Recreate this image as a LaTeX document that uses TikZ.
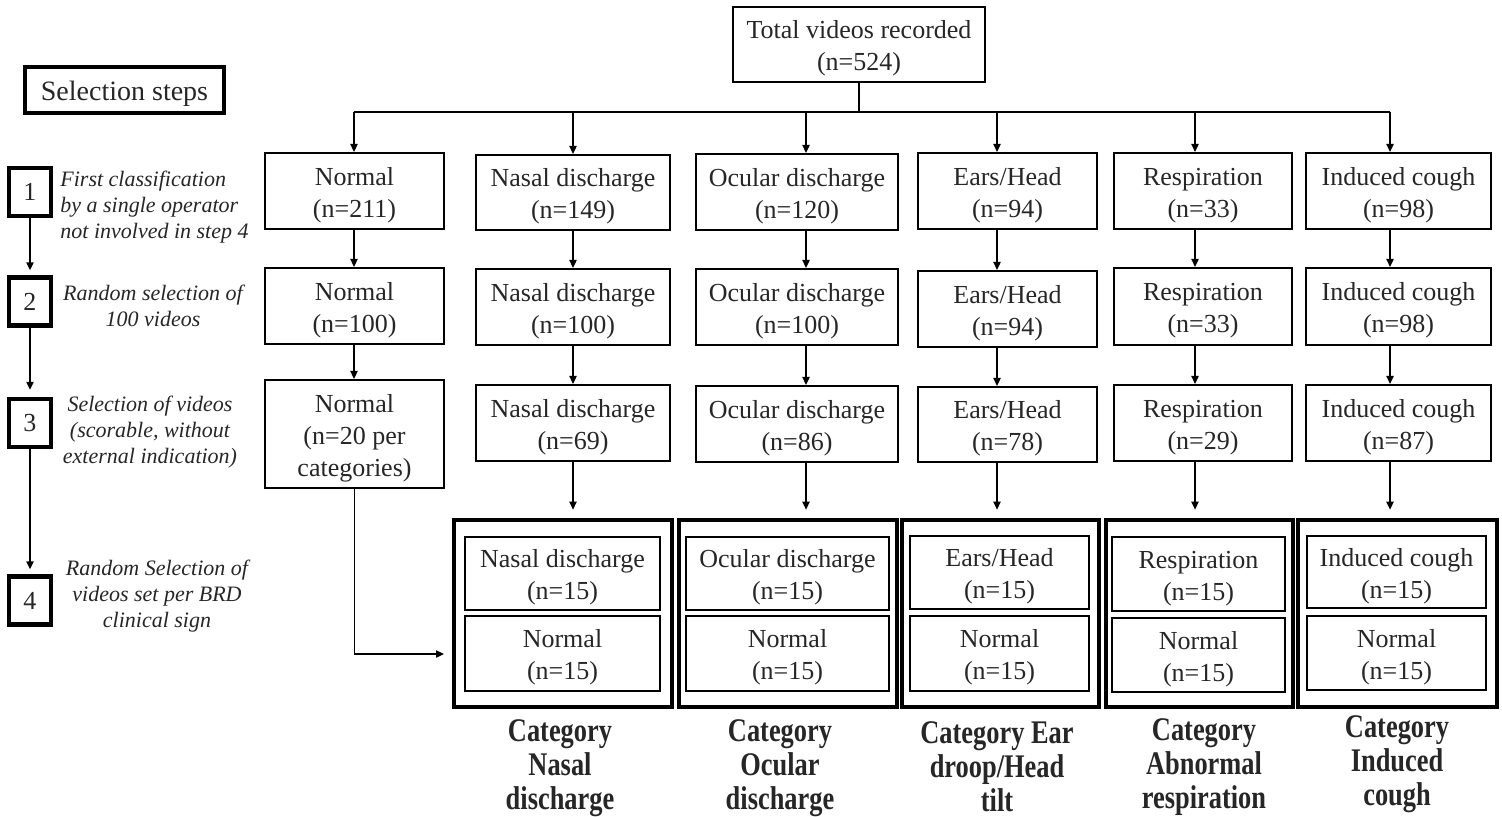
\documentclass[tikz,border=0pt]{standalone}
\usepackage{fontspec}
\setmainfont{Liberation Serif}
\usepackage{graphicx}
\usetikzlibrary{arrows.meta}

% strut that lowers box text slightly below the geometric centre
\newcommand\boxlift{\rule{0pt}{13pt}}

% \boxat[style]{name}{x1}{y1}{x2}{y2}{text}: a box spanning the given corners
\newcommand\boxat[7][]{%
  \node[box,#1,minimum width={(#5-#3)*0.5pt},minimum height={(#6-#4)*0.5pt}]
    (#2) at ({(#3+#5)/2},{(#4+#6)/2}) {\boxlift #7};}

% bold, narrow category caption
\newcommand\catlabel[1]{\scalebox{0.8}[1]{\begin{tabular}{@{}c@{}}#1\end{tabular}}}

\tikzset{
  box/.style={draw, line width=1pt, inner sep=0pt, align=center,
              font=\fontsize{13}{16}\selectfont, text=black!85},
  heavybox/.style={box, line width=2pt, font=\fontsize{14}{16}\selectfont},
  groupbox/.style={line width=2.3pt},
  innerbox/.style={line width=1.2pt},
  stepbox/.style={box, line width=2.2pt, minimum width=21pt, minimum height=24pt},
  link/.style={line width=0.8pt},
  arr/.style={link, -{Triangle[length=4pt,width=3.6pt]}},
  stepnote/.style={font=\fontsize{11}{13}\selectfont\itshape, inner sep=0pt, text=black!85},
  cat/.style={font=\fontsize{16.5}{17}\selectfont\bfseries, inner sep=0pt, text=black!85}
}

\begin{document}
\begin{tikzpicture}[x=0.5pt,y=-0.5pt]
\useasboundingbox (0,0) rectangle (1502,817);

% legend
\node[heavybox, minimum width=99.5pt, minimum height=23pt] (legend) at (124.5,90) {\boxlift Selection steps};

% root
\boxat{top}{733}{7}{985}{82}{Total videos recorded\\(n=524)}

% step 1: first classification
\boxat{n1}{265}{153}{444}{229}{Normal\\(n=211)}
\boxat{a1}{476}{155}{670}{230}{Nasal discharge\\(n=149)}
\boxat{o1}{696}{154}{898}{230}{Ocular discharge\\(n=120)}
\boxat{e1}{918}{153}{1097}{229}{Ears/Head\\(n=94)}
\boxat{r1}{1114}{153}{1292}{229}{Respiration\\(n=33)}
\boxat{c1}{1306}{153}{1491}{229}{Induced cough\\(n=98)}

% step 2: random selection
\boxat{n2}{265}{268}{444}{344}{Normal\\(n=100)}
\boxat{a2}{476}{269}{670}{345}{Nasal discharge\\(n=100)}
\boxat{o2}{696}{269}{898}{345}{Ocular discharge\\(n=100)}
\boxat{e2}{918}{271}{1097}{347}{Ears/Head\\(n=94)}
\boxat{r2}{1114}{268}{1292}{345}{Respiration\\(n=33)}
\boxat{c2}{1306}{268}{1491}{345}{Induced cough\\(n=98)}

% step 3: scorable videos
\boxat{n3}{265}{380}{444}{488}{Normal\\(n=20 per\\categories)}
\boxat{a3}{476}{385}{670}{461}{Nasal discharge\\(n=69)}
\boxat{o3}{696}{386}{898}{462}{Ocular discharge\\(n=86)}
\boxat{e3}{918}{387}{1097}{462}{Ears/Head\\(n=78)}
\boxat{r3}{1114}{385}{1292}{461}{Respiration\\(n=29)}
\boxat{c3}{1306}{385}{1491}{461}{Induced cough\\(n=87)}

% step 4: final sets per clinical sign
\boxat[groupbox]{g1}{454}{520}{672}{707}{}
\boxat[innerbox]{g1t}{465}{537}{660}{610}{Nasal discharge\\(n=15)}
\boxat[innerbox]{g1b}{465}{616}{660}{691}{Normal\\(n=15)}

\boxat[groupbox]{g2}{679}{520}{897}{707}{}
\boxat[innerbox]{g2t}{686}{537}{889}{610}{Ocular discharge\\(n=15)}
\boxat[innerbox]{g2b}{686}{616}{889}{691}{Normal\\(n=15)}

\boxat[groupbox]{g3}{902}{520}{1099}{707}{}
\boxat[innerbox]{g3t}{910}{536}{1089}{609}{Ears/Head\\(n=15)}
\boxat[innerbox]{g3b}{910}{616}{1089}{691}{Normal\\(n=15)}

\boxat[groupbox]{g4}{1106}{520}{1293}{707}{}
\boxat[innerbox]{g4t}{1112}{537}{1285}{611}{Respiration\\(n=15)}
\boxat[innerbox]{g4b}{1112}{618}{1285}{692}{Normal\\(n=15)}

\boxat[groupbox]{g5}{1298}{520}{1497}{707}{}
\boxat[innerbox]{g5t}{1307}{536}{1486}{608}{Induced cough\\(n=15)}
\boxat[innerbox]{g5b}{1307}{616}{1486}{690}{Normal\\(n=15)}

% category captions
\node[cat] (k1) at (560,769) {\catlabel{Category\\Nasal\\discharge}};
\node[cat] (k2) at (780,769) {\catlabel{Category\\Ocular\\discharge}};
\node[cat] (k3) at (997,771) {\catlabel{Category Ear\\droop/Head\\tilt}};
\node[cat] (k4) at (1204,768) {\catlabel{Category\\Abnormal\\respiration}};
\node[cat] (k5) at (1397,765) {\catlabel{Category\\Induced\\cough}};

% step markers on the left
\node[stepbox] (s1) at (30,192) {1};
\node[stepbox] (s2) at (30,301.5) {2};
\node[stepbox] (s3) at (30,423) {3};
\node[stepbox] (s4) at (30,600.5) {4};

\node[stepnote, anchor=west, align=left] (t1) at (60,207)
  {First classification\\by a single operator\\not involved in step 4};
\node[stepnote, align=center] (t2) at (153,306) {Random selection of\\100 videos};
\node[stepnote, align=center] (t3) at (150,432) {Selection of videos\\(scorable, without\\external indication)};
\node[stepnote, align=center] (t4) at (157,596) {Random Selection of\\videos set per BRD\\clinical sign};

\draw[arr, shorten >=2.5pt] (s1) -- (s2);
\draw[arr, shorten >=3.5pt] (s2) -- (s3);
\draw[arr, shorten >=2.5pt] (s3) -- (s4);

% distribution bus under the root
\coordinate (xN) at (354,112);
\coordinate (xA) at (573,112);
\coordinate (xO) at (806,112);
\coordinate (xE) at (997,112);
\coordinate (xR) at (1195,112);
\coordinate (xC) at (1390,112);
\draw[link] (top.south) -- (top.south |- xN);
\draw[link] (xN) -- (xC);
\foreach \c/\b in {xN/n1, xA/a1, xO/o1, xE/e1, xR/r1, xC/c1}
  \draw[arr] (\c) -- (\c |- \b.north);

% row to row
\foreach \c/\a/\b in {xN/n1/n2, xA/a1/a2, xO/o1/o2, xE/e1/e2, xR/r1/r2, xC/c1/c2,
                      xN/n2/n3, xA/a2/a3, xO/o2/o3, xE/e2/e3, xR/r2/r3, xC/c2/c3}
  \draw[arr] (\c |- \a.south) -- (\c |- \b.north);

\foreach \c/\a/\b in {xA/a3/g1, xO/o3/g2, xE/e3/g3, xR/r3/g4, xC/c3/g5}
  \draw[arr, shorten >=4pt] (\c |- \a.south) -- (\c |- \b.north);

% normal videos feed every final set
\coordinate (nin) at (454,654);
\draw[arr, shorten >=5pt] (n3.south) |- (nin);
\end{tikzpicture}
\end{document}
